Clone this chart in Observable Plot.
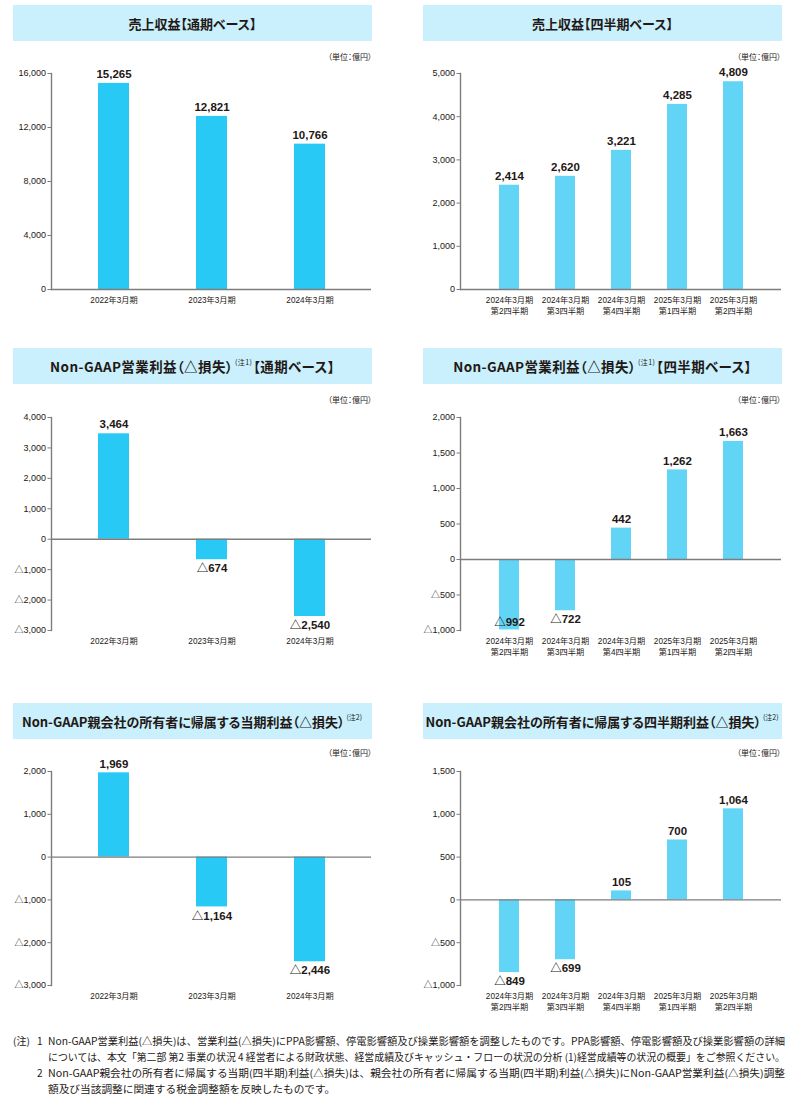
<!DOCTYPE html>
<html><head><meta charset="utf-8">
<script src="https://cdn.jsdelivr.net/npm/d3@7"></script>
<script src="https://cdn.jsdelivr.net/npm/@observablehq/plot@0.6"></script>
<style>
body{margin:0;background:#fff;font-family:"Noto Sans CJK JP",sans-serif;color:#231815;}
#root{position:relative;width:800px;height:1108px;overflow:hidden;}
.title{position:absolute;background:#c9f0fc;height:36px;display:flex;align-items:center;justify-content:center;font-weight:700;font-size:13px;white-space:nowrap;color:#231815;font-feature-settings:"palt";}
.title sup{font-size:7px;font-weight:400;vertical-align:0;position:relative;top:-4px;margin:0 1px 0 2px;}
.title.wide{font-size:13.5px;letter-spacing:0.4px;}
.unit{position:absolute;font-size:8px;white-space:nowrap;line-height:10px;font-feature-settings:"palt";}
.chart{position:absolute;}
.note{position:absolute;font-size:10px;white-space:nowrap;transform-origin:0 50%;line-height:12px;}
</style></head><body><div id="root"></div>
<script>
// ---- data ----
const annualCats = ["2022年3月期", "2023年3月期", "2024年3月期"];
const quarterCats = ["2024年3月期\n第2四半期", "2024年3月期\n第3四半期", "2024年3月期\n第4四半期", "2025年3月期\n第1四半期", "2025年3月期\n第2四半期"];
const revenueAnnual = [15265, 12821, 10766];
const revenueQuarter = [2414, 2620, 3221, 4285, 4809];
const opAnnual = [3464, -674, -2540];
const opQuarter = [-992, -722, 442, 1262, 1663];
const netAnnual = [1969, -1164, -2446];
const netQuarter = [-849, -699, 105, 700, 1064];
const ticksRevenueAnnual = [0, 4000, 8000, 12000, 16000];
const ticksRevenueQuarter = [0, 1000, 2000, 3000, 4000, 5000];
const ticksOpAnnual = [-3000, -2000, -1000, 0, 1000, 2000, 3000, 4000];
const ticksOpQuarter = [-1000, -500, 0, 500, 1000, 1500, 2000];
const ticksNetAnnual = [-3000, -2000, -1000, 0, 1000, 2000];
const ticksNetQuarter = [-1000, -500, 0, 500, 1000, 1500];
const titleRevenueAnnual = "売上収益【通期ベース】";
const titleRevenueQuarter = "売上収益【四半期ベース】";
const titleOpAnnual = ["Non-GAAP営業利益（△損失）", "(注1)", "【通期ベース】"];
const titleOpQuarter = ["Non-GAAP営業利益（△損失）", "(注1)", "【四半期ベース】"];
const titleNetAnnual = ["Non-GAAP親会社の所有者に帰属する当期利益（△損失）", "(注2)", ""];
const titleNetQuarter = ["Non-GAAP親会社の所有者に帰属する四半期利益（△損失）", "(注2)", ""];
const unitLabel = "（単位：億円）";
const noteHead = "(注)";
const noteNums = ["1", "2"];
const noteLines = [
  "Non-GAAP営業利益(△損失)は、営業利益(△損失)にPPA影響額、停電影響額及び操業影響額を調整したものです。PPA影響額、停電影響額及び操業影響額の詳細",
  "については、本文「第二部 第2 事業の状況 4 経営者による財政状態、経営成績及びキャッシュ・フローの状況の分析 (1)経営成績等の状況の概要」をご参照ください。",
  "Non-GAAP親会社の所有者に帰属する当期(四半期)利益(△損失)は、親会社の所有者に帰属する当期(四半期)利益(△損失)にNon-GAAP営業利益(△損失)調整",
  "額及び当該調整に関連する税金調整額を反映したものです。"
];

// ---- layout ----
const root = document.getElementById("root");
const LEFT = {svgLeft: 0, marginLeft: 51, marginRight: 29, pi: 0.684, po: 0.474, fill: "#29c9f5", titleLeft: 13, titleWidth: 359, unitRight: 428};
const RIGHT = {svgLeft: 400, marginLeft: 60, marginRight: 19, pi: 0.646, po: 0.664, fill: "#62d5f7", titleLeft: 423, titleWidth: 359, unitRight: 19};
const ROWS = [
  {titleTop: 5, unitY: 57, svgTop: 60, marginTop: 13, plotBottom: 289},
  {titleTop: 348, unitY: 400, svgTop: 400, marginTop: 17, plotBottom: 630, wide: true},
  {titleTop: 703, unitY: 753, svgTop: 755, marginTop: 16, plotBottom: 985}
];
const fmt = v => (v < 0 ? "△" : "") + d3.format(",")(Math.abs(v));

function addTitle(side, row, t) {
  const d = document.createElement("div");
  d.className = "title" + (row.wide ? " wide" : "");
  d.style.left = side.titleLeft + "px";
  d.style.width = side.titleWidth + "px";
  d.style.top = row.titleTop + "px";
  if (typeof t === "string") d.textContent = t;
  else {
    d.append(t[0]);
    const s = document.createElement("sup"); s.textContent = t[1]; d.append(s);
    if (t[2]) d.append(t[2]);
  }
  root.append(d);
  const u = document.createElement("div");
  u.className = "unit";
  u.textContent = unitLabel;
  u.style.right = side.unitRight + "px";
  u.style.top = (row.unitY - 5) + "px";
  root.append(u);
}

function drawChart(values, cats, ticks, side, row) {
  const data = cats.map((c, i) => ({cat: c, v: values[i]}));
  const [lo, hi] = d3.extent(ticks);
  const MB = 32;
  const H = row.plotBottom - row.svgTop + MB;
  const low = d => d.v < 0 && (d.v - lo) / (hi - lo) < 0.03;
  const labelOpts = {x: "cat", y: "v", text: d => fmt(d.v), fontSize: 11.5, fontWeight: "bold", fill: "#231815"};
  const chart = Plot.plot({
    width: 400, height: H,
    marginLeft: side.marginLeft, marginRight: side.marginRight, marginTop: row.marginTop, marginBottom: MB,
    style: {fontFamily: '"Liberation Sans","Noto Sans CJK JP",sans-serif', color: "#231815", background: "transparent", overflow: "visible"},
    x: {domain: cats, paddingInner: side.pi, paddingOuter: side.po},
    y: {domain: [lo, hi]},
    marks: [
      Plot.barY(data, {x: "cat", y: "v", fill: side.fill}),
      Plot.ruleY([0], {stroke: "#7d7d7d", strokeWidth: 1.4}),
      Plot.frame({anchor: "left", stroke: "#7d7d7d", strokeWidth: 1.4}),
      Plot.axisY({ticks, tickSize: 3.5, tickPadding: 2, tickFormat: fmt, fontSize: 9, stroke: "#7d7d7d", fill: "#231815", label: null}),
      Plot.axisX({tickSize: 0, tickPadding: 6, fontSize: 8.2, lineHeight: 1.33, label: null, fill: "#231815"}),
      Plot.text(data.filter(d => d.v >= 0), {...labelOpts, dy: -9}),
      Plot.text(data.filter(d => d.v < 0 && !low(d)), {...labelOpts, dy: 9}),
      Plot.text(data.filter(low), {...labelOpts, dy: -8})
    ]
  });
  chart.classList.add("chart");
  chart.style.left = side.svgLeft + "px";
  chart.style.top = row.svgTop + "px";
  root.append(chart);
}

addTitle(LEFT, ROWS[0], titleRevenueAnnual);
addTitle(RIGHT, ROWS[0], titleRevenueQuarter);
addTitle(LEFT, ROWS[1], titleOpAnnual);
addTitle(RIGHT, ROWS[1], titleOpQuarter);
addTitle(LEFT, ROWS[2], titleNetAnnual);
addTitle(RIGHT, ROWS[2], titleNetQuarter);

drawChart(revenueAnnual, annualCats, ticksRevenueAnnual, LEFT, ROWS[0]);
drawChart(revenueQuarter, quarterCats, ticksRevenueQuarter, RIGHT, ROWS[0]);
drawChart(opAnnual, annualCats, ticksOpAnnual, LEFT, ROWS[1]);
drawChart(opQuarter, quarterCats, ticksOpQuarter, RIGHT, ROWS[1]);
drawChart(netAnnual, annualCats, ticksNetAnnual, LEFT, ROWS[2]);
drawChart(netQuarter, quarterCats, ticksNetQuarter, RIGHT, ROWS[2]);

// ---- footnotes ----
function note(text, x, yc) {
  const d = document.createElement("div");
  d.className = "note";
  d.textContent = text;
  d.style.left = x + "px";
  d.style.top = (yc - 6) + "px";
  root.append(d);
  return d;
}
note(noteHead, 13, 1041);
note(noteNums[0], 37, 1041);
note(noteNums[1], 37, 1073);
const lineY = [1041, 1057, 1073, 1089];
const lineEls = noteLines.map((t, i) => note(t, 48, lineY[i]));
let lastScale = 1;
lineEls.forEach((el, i) => {
  const w = el.getBoundingClientRect().width;
  let s = i < 3 ? 737 / w : lastScale;
  lastScale = s;
  el.style.transform = `scaleX(${s})`;
});
</script>
</body></html>
